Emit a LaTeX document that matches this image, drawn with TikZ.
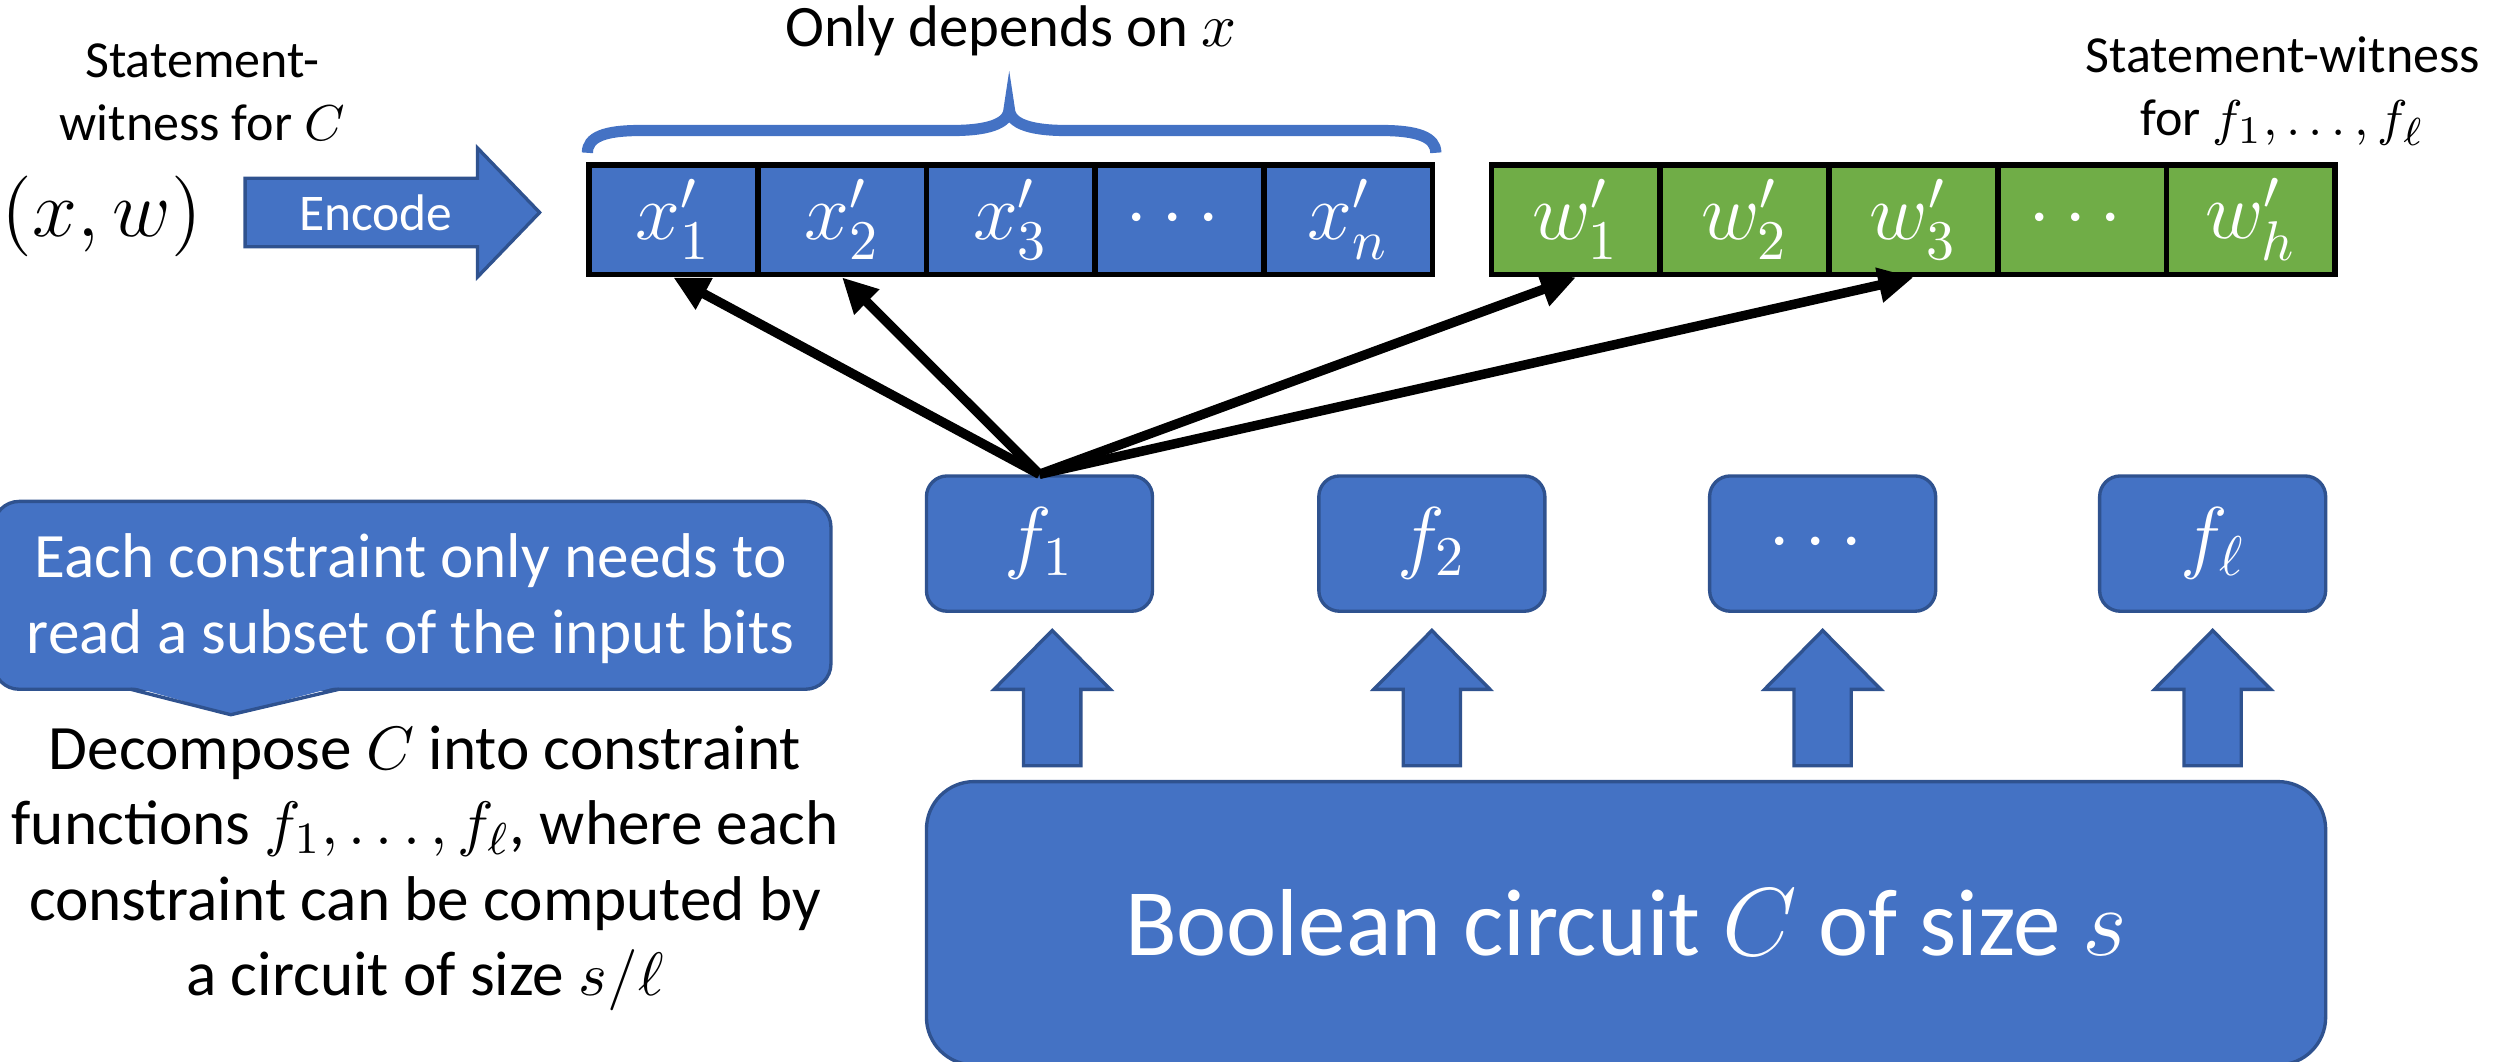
\documentclass[tikz,border=0pt]{standalone}
\usepackage{amsmath,amssymb}
\usepackage{fontspec}
\setmainfont{Carlito}
\usetikzlibrary{calc}
\usetikzlibrary{arrows.meta}

\definecolor{boxblue}{HTML}{4472C4}
\definecolor{edgeblue}{HTML}{2F528F}
\definecolor{cellgreen}{HTML}{70AD47}

\begin{document}
\begin{tikzpicture}[x=0.1mm,y=-0.1mm,
  cell/.style={draw=black,line width=1pt,minimum width=10.6mm,minimum height=6.9mm,
    inner sep=0pt,text=white,font=\fontsize{14}{16}\selectfont},
  fbox/.style={draw=edgeblue,line width=0.6pt,fill=boxblue,rounded corners=1.3mm,
    minimum width=14.2mm,minimum height=8.5mm,text=white,font=\fontsize{14}{16}\selectfont},
  shapeblue/.style={draw=edgeblue,line width=0.6pt,fill=boxblue},
  label/.style={align=center,font=\fontsize{9.3}{11.3}\selectfont},
  note/.style={align=center,font=\fontsize{11.3}{13.5}\selectfont},
  link/.style={line width=1.7pt,-{Triangle[length=2.2mm,width=2.1mm]}}
]
\useasboundingbox (0,0) rectangle (1568,667);
\clip (0,0) rectangle (1568,667);

  % input and encoding
  \node[label] (stmt) at (127,58) {Statement-\\witness for $C$};
  \node[font=\fontsize{14}{16}\selectfont] (xw) at (64,136) {$(x,w)$};
  \draw[shapeblue] (154,112) -- (300,112) -- (300,93) -- (339,133.5) -- (300,174)
    -- (300,155) -- (154,155) -- cycle;
  \node[text=white,font=\fontsize{9.2}{11}\selectfont,anchor=base] (enc) at (236,145) {Encode};

  % encoded statement and witness
  \foreach \i/\t in {1/{x'_1},2/{x'_2},3/{x'_3},4/{\cdots},5/{x'_n}}
    \node[cell,fill=boxblue] (x\i) at ({317+106*\i},138) {$\t$};
  \foreach \i/\t in {1/{w'_1},2/{w'_2},3/{w'_3},4/{\cdots},5/{w'_h}}
    \node[cell,fill=cellgreen] (w\i) at ({884+106*\i},138) {$\t$};

  \draw[boxblue,line width=2pt] (369,96) .. controls (369,86) and (380,82) .. (402,82)
    -- (598,82) .. controls (625,82) and (634,76) .. (634,68)
    .. controls (634,76) and (643,82) .. (670,82) -- (868,82)
    .. controls (890,82) and (902,86) .. (902,96);
  \node[font=\fontsize{10.5}{12.6}\selectfont,anchor=base] (dep) at (635,29) {Only depends on $x$};
  \node[label] (wit) at (1434,57) {Statement-witness\\for $f_1,\ldots,f_\ell$};

  % constraint functions
  \node[fbox] (f1) at (653,341.5) {$f_1$};
  \node[fbox] (f2) at (899.5,341.5) {$f_2$};
  \node[fbox] (fd) at (1145,341.5) {$\cdots$};
  \node[fbox] (fl) at (1390,341.5) {$f_\ell$};

  \foreach \t in {x1,x2,w1,w3}
    \draw[link] (f1.north) -- (\t.south);

  % the circuit
  \node[draw=edgeblue,line width=0.6pt,fill=boxblue,rounded corners=3mm,
    minimum width=87.9mm,minimum height=17.8mm,text=white,
    font=\fontsize{17}{20}\selectfont] (circ) at (1021.5,580) {Boolean circuit $C$ of size $s$};

  \foreach \n/\dx in {f1/8,f2/0,fd/0,fl/0}
    \draw[shapeblue] ($(\n.south)+(\dx,11)$) -- ++(36.5,37) -- ++(-18.5,0) -- ++(0,48)
      -- ++(-36,0) -- ++(0,-48) -- ++(-18.5,0) -- cycle;

  % callout
  \draw[shapeblue,rounded corners=1.6mm] (-4,315) rectangle (522,433);
  \fill[boxblue] (82,431) -- (145,449) -- (213,431) -- cycle;
  \draw[edgeblue,line width=0.6pt] (82,433) -- (145,449) -- (213,433);
  \node[note,text=white] (read) at (258,376) {Each constraint only needs to\\read a subset of the input bits};

  \node[note] (dec) at (267,545.5) {Decompose $C$ into constraint\\functions $f_1,\ldots,f_\ell$, where each\\constraint can be computed by\\a circuit of size $s/\ell$};

\end{tikzpicture}
\end{document}
